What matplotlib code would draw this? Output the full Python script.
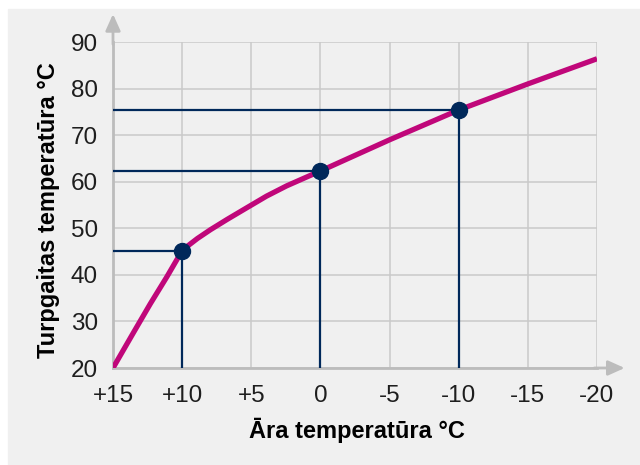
import numpy as np
import matplotlib
matplotlib.use('Agg')
import matplotlib.pyplot as plt
from matplotlib.patches import Rectangle

# heating curve
outdoor = [15, 13.5, 12.3, 11.1, 10, 9.6, 8.9, 7.95, 6.75, 5.5, 3.9, 2.45, 1.0, 0,
           -5, -10, -15, -20]
supply = [20, 27.7, 33.8, 39.6, 45.2, 46.2, 47.8, 49.7, 51.9, 54.1, 56.9, 59.1, 61.0, 62.3,
          69.0, 75.4, 81.0, 86.4]

# marked points
pt_x = [10, 0, -10]
pt_y = [45.2, 62.3, 75.4]

x_ticks = [15, 10, 5, 0, -5, -10, -15, -20]
x_labels = ['+15', '+10', '+5', '0', '-5', '-10', '-15', '-20']
y_ticks = [20, 30, 40, 50, 60, 70, 80, 90]

magenta = '#c0077a'
navy = '#00285a'
grid_c = '#c9c9c9'
axis_c = '#bcbcbc'
bg = '#f0f0f0'

plt.rcParams['font.family'] = ['Liberation Sans', 'DejaVu Sans']

fig = plt.figure(figsize=(6.4, 4.65), dpi=100)
fig.patches.append(Rectangle((8/640, 0), 1, 1 - 9/465, transform=fig.transFigure,
                             color=bg, zorder=-10))
ax = fig.add_axes([113/640, 1 - 368/465, (597 - 113)/640, (368 - 42)/465])
ax.set_facecolor(bg)
ax.set_xlim(15, -20)
ax.set_ylim(20, 90)

ax.set_xticks(x_ticks)
ax.set_xticklabels(x_labels)
ax.set_yticks(y_ticks)
ax.grid(True, color=grid_c, lw=1.1, zorder=1)
ax.set_axisbelow(True)
ax.tick_params(length=0, labelsize=17.5, colors='#1e1e1e')
ax.tick_params(axis='x', pad=12)
ax.tick_params(axis='y', pad=11)

for s in ['top', 'right']:
    ax.spines[s].set_visible(False)
for s in ['left', 'bottom']:
    ax.spines[s].set_color(axis_c)
    ax.spines[s].set_linewidth(2)
    ax.spines[s].set_zorder(2)

# guide lines from axes to the points
for px, py in zip(pt_x, pt_y):
    ax.plot([15, px], [py, py], color=navy, lw=1.6, zorder=3, solid_capstyle='butt')
    ax.plot([px, px], [20, py], color=navy, lw=1.6, zorder=3, solid_capstyle='butt')

ax.plot(outdoor, supply, color=magenta, lw=3.8, zorder=4,
        solid_capstyle='butt', solid_joinstyle='round')
ax.plot(pt_x, pt_y, 'o', color=navy, ms=11.5, zorder=5)

# axis arrows
ax.annotate('', xy=(15, 96), xytext=(15, 89.5), xycoords='data',
            arrowprops=dict(arrowstyle='-|>,head_length=1.0,head_width=0.45',
                            color=axis_c, lw=2, shrinkA=0, shrinkB=0),
            annotation_clip=False)
ax.annotate('', xy=(-22, 20), xytext=(-19.8, 20), xycoords='data',
            arrowprops=dict(arrowstyle='-|>,head_length=1.0,head_width=0.45',
                            color=axis_c, lw=2, shrinkA=0, shrinkB=0),
            annotation_clip=False)

ax.set_xlabel('Āra temperatūra °C', fontsize=17, fontweight='bold')
ax.set_ylabel('Turpgaitas temperatūra °C', fontsize=17, fontweight='bold')
ax.xaxis.set_label_coords(0.505, -0.154)
ax.yaxis.set_label_coords(-0.11, 0.485)

fig.savefig('out.png', dpi=100, facecolor='white')
